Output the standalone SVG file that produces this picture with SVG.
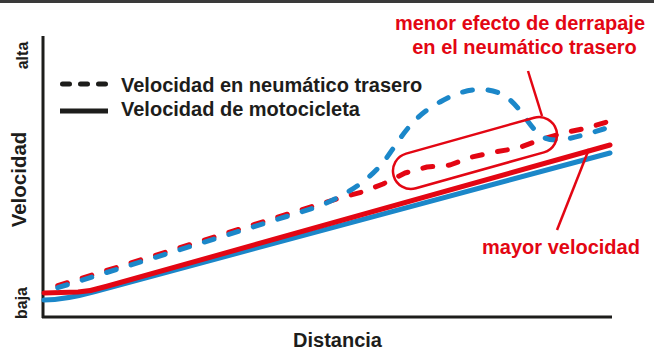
<svg xmlns="http://www.w3.org/2000/svg" width="654" height="352" viewBox="0 0 654 352">
<style>
.t{font-family:"Liberation Sans",Arial,sans-serif;font-weight:bold;fill:#1d1d1b}
.r{fill:#e30613}
.sol{fill:none;stroke-width:5;stroke-linecap:round;stroke-linejoin:round}
.dsh{fill:none;stroke-width:5;stroke-linecap:round;stroke-linejoin:round;stroke-dasharray:10 15.6;stroke-dashoffset:11.2}
.red{stroke:#e30613}
.blue{stroke:#1b87c9}
.ax{stroke:#1d1d1b;stroke-width:3;fill:none}
.lead{stroke:#e30613;stroke-width:2.5;fill:none}
</style>
<rect x="0" y="0" width="654" height="3" fill="#3a3a3a"/>
<g id="axes">
<path class="ax" d="M43,36 V318 M42,317 H612"/>
<text class="t" font-size="16" transform="translate(28,55.5) rotate(-90)" text-anchor="middle">alta</text>
<text class="t" font-size="16" transform="translate(27,303) rotate(-90)" text-anchor="middle">baja</text>
<text class="t" font-size="20.5" transform="translate(26,179.5) rotate(-90)" text-anchor="middle">Velocidad</text>
<text class="t" font-size="20" x="337.5" y="347" text-anchor="middle">Distancia</text>
</g>
<g id="legend">
<path class="red" style="stroke:#1d1d1b;stroke-width:5;stroke-linecap:round;fill:none;stroke-dasharray:7 11" d="M62.5,84 H107"/>
<path style="stroke:#1d1d1b;stroke-width:5;fill:none" d="M60,111 H108"/>
<text class="t" font-size="20" x="121" y="92">Velocidad en neumático trasero</text>
<text class="t" font-size="20" x="121" y="116">Velocidad de motocicleta</text>
</g>
<g id="connectors">
<path class="sol blue" d="M44,300 C60,300 75,297 95,291.5 L610,153"/>
<path class="sol red" d="M44,293 L78,292 Q92,291 106,286.5 L610,145"/>
<path class="dsh red" d="M44,290 L317,205 L340,198 L362,192 L383,184 L405,173 L427,167 L450,165 L472,157 L495,152 L518,148 L540,140 L563,133 L587,128 L610,121"/>
<path class="dsh blue" d="M44,292 L317,207 C345,196 370,180 385,160 C400,140 410,118 440,102 C460,90 485,84 505,96 C520,106 528,125 540,135 C552,144 565,141 610,127"/>
<rect x="-84.5" y="-18" width="169" height="36" rx="18" fill="none" stroke="#e30613" stroke-width="2.5" transform="translate(475,153) rotate(-15.7)"/>
<path class="lead" d="M528,71 L542,116"/>
<path class="lead" d="M589,149 L557,230"/>
</g>
<g id="labels">
<text class="t r" font-size="20" x="520" y="30" text-anchor="middle">menor efecto de derrapaje</text>
<text class="t r" font-size="20" x="524.5" y="54" text-anchor="middle">en el neumático trasero</text>
<text class="t r" font-size="20" x="561" y="254" text-anchor="middle">mayor velocidad</text>
</g>
</svg>
